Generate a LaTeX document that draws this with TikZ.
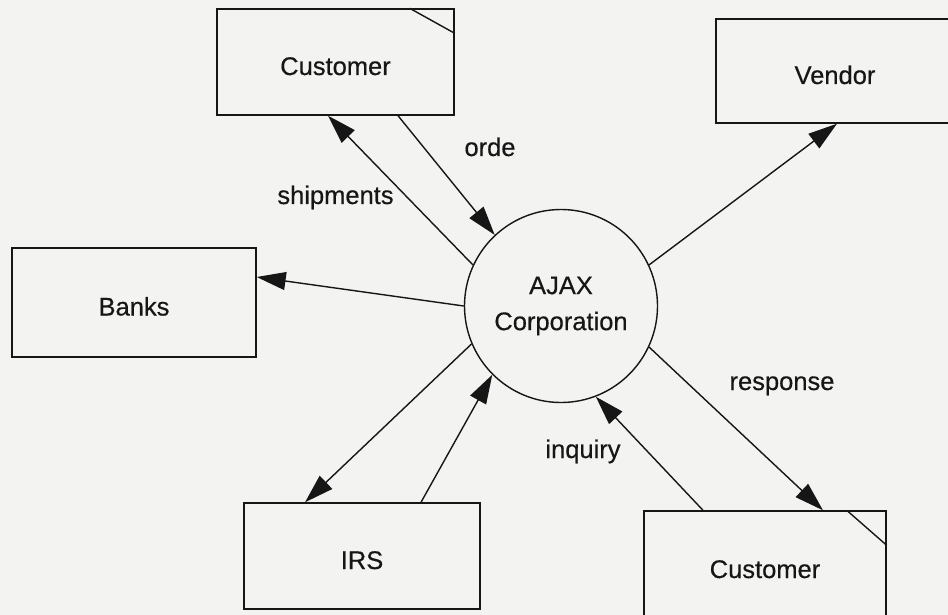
\documentclass[tikz,border=0pt]{standalone}
\usepackage{fontspec}
\setmainfont[FakeBold=0.4]{Liberation Sans}
\usetikzlibrary{arrows.meta,calc}
\definecolor{paper}{RGB}{243,243,241}
\definecolor{ink}{RGB}{22,22,22}
\begin{document}
\begin{tikzpicture}[x=1pt,y=-1pt,
  every node/.style={font=\fontsize{25.5}{36}\selectfont, text=ink},
  entity/.style={draw=ink, line width=1.4pt, rectangle, inner sep=0pt,
    text height=26pt, text depth=0pt},
  process/.style={draw=ink, line width=1.4pt, circle, minimum size=193pt,
    inner sep=0pt, align=center},
  flow/.style={draw=ink, line width=1.4pt, -{Triangle[length=29pt,width=18pt]}},
  fold/.style={draw=ink, line width=1.4pt},
  flowlabel/.style={anchor=base, inner sep=0pt}]
% paper
\fill[paper] (0,0) rectangle (948,615);
\useasboundingbox (0,0) rectangle (948,615);
\clip (0,0) rectangle (948,615);

% central process
\node[process] (ajax) at (561,306) {AJAX\\Corporation};

% external entities
\node[entity, minimum width=237pt, minimum height=106pt] (custtop) at (335.5,62) {Customer};
\node[entity, minimum width=238pt, minimum height=104pt] (vendor) at (835,71) {Vendor};
\node[entity, minimum width=244pt, minimum height=109pt] (banks) at (134,302.5) {Banks};
\node[entity, minimum width=236pt, minimum height=106pt] (irs) at (362,556) {IRS};
\node[entity, minimum width=242pt, minimum height=108pt] (custbot) at (765,565) {Customer};

% duplicate-entity corner marks
\draw[fold] ([xshift=-45pt]custtop.north east) -- ([yshift=-25pt]custtop.north east);
\draw[fold] ([xshift=-40pt]custbot.north east) -- ([yshift=-35pt]custbot.north east);

% data flows
\draw[flow] ([xshift=62.5pt]custtop.south) -- (ajax.133);
\draw[flow] (ajax.155) -- ([xshift=-7.5pt]custtop.south);
\draw[flow] (ajax.25) -- ([xshift=2pt]vendor.south);
\draw[flow] (ajax.180) -- ([yshift=25.5pt]banks.east);
\draw[flow] (ajax.203) -- ([xshift=-57pt]irs.north);
\draw[flow] ([xshift=59pt]irs.north) -- (ajax.225);
\draw[flow] ([xshift=-62pt]custbot.north) -- (ajax.291.6);
\draw[flow] (ajax.335) -- ([xshift=58pt]custbot.north);

% flow labels
\node[flowlabel] (lorde) at (490,156) {orde};
\node[flowlabel] (lship) at (335.5,204) {shipments};
\node[flowlabel] (lresp) at (782,390) {response};
\node[flowlabel] (linq) at (583,458) {inquiry};
\end{tikzpicture}
\end{document}
